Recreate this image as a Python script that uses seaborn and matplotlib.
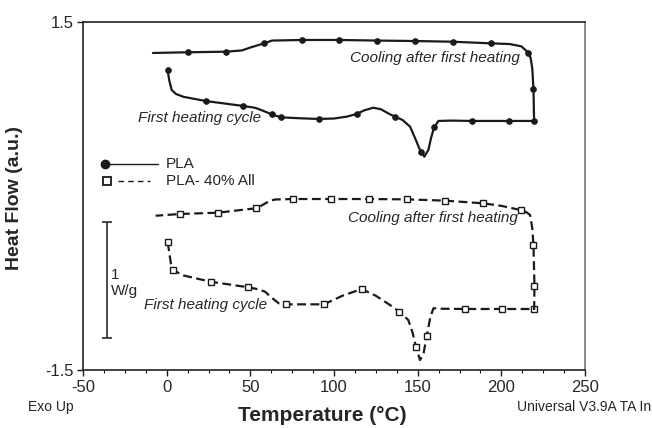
import matplotlib
matplotlib.use('Agg')
import matplotlib.pyplot as plt
import seaborn as sns
import pandas as pd

# PLA, first heating cycle
pla_heat_t = [0.6, 1.5, 3.0, 5.5, 10, 23.3, 45.8, 53, 57.6, 62.7, 68.4, 80, 90.8, 100, 107.6,
              113.5, 118, 123.5, 128, 133.5, 136.5, 141, 145.5, 149, 151.8, 154, 156.4, 158,
              159.8, 162.4, 170, 182.3, 204.8, 219.6]
pla_heat_v = [1.084, 1.00, 0.914, 0.880, 0.855, 0.819, 0.776, 0.760, 0.735, 0.704, 0.678, 0.670,
              0.664, 0.668, 0.684, 0.707, 0.738, 0.761, 0.748, 0.704, 0.684, 0.655, 0.597, 0.48,
              0.382, 0.339, 0.397, 0.50, 0.592, 0.647, 0.650, 0.647, 0.647, 0.647]
pla_heat_marks = [0, 5, 6, 9, 10, 12, 15, 20, 24, 28, 31, 32, 33]

# PLA, cooling after first heating
pla_cool_t = [219.6, 219.4, 219.2, 218.5, 217.5, 216.2, 212, 205, 193.7, 171, 148.4, 125.7, 103,
              81, 63, 58.2, 50, 45, 35.5, 12.8, -8.2]
pla_cool_v = [0.647, 0.78, 0.92, 1.10, 1.19, 1.235, 1.29, 1.31, 1.316, 1.33, 1.336, 1.34, 1.345,
              1.345, 1.34, 1.316, 1.28, 1.255, 1.244, 1.239, 1.233]
pla_cool_marks = [2, 5, 8, 9, 10, 11, 12, 13, 15, 18, 19]

# PLA- 40% All, first heating cycle
all_heat_t = [0.6, 1.5, 2.5, 3.6, 10, 26.3, 48.8, 55, 58.8, 63, 67, 71.3, 94, 105, 116.5, 125,
              133.5, 139, 144.4, 147, 149, 151.4, 153.5, 155.4, 157.5, 159.4, 165, 178, 200.6, 219.6]
all_heat_v = [-0.399, -0.48, -0.58, -0.638, -0.685, -0.739, -0.787, -0.805, -0.825, -0.88, -0.925,
              -0.934, -0.934, -0.86, -0.802, -0.86, -0.94, -0.997, -1.069, -1.18, -1.299, -1.414,
              -1.36, -1.207, -1.05, -0.968, -0.972, -0.974, -0.974, -0.974]
all_heat_marks = [0, 3, 5, 6, 11, 12, 14, 17, 20, 23, 27, 28, 29]

# PLA- 40% All, cooling after first heating
all_cool_t = [219.6, 219.8, 219.2, 218.5, 217.2, 215, 211.6, 200, 188.9, 166.4, 143.4, 120.9, 98.2,
              75.7, 65, 61.8, 57, 53.2, 30.5, 8, -6.6]
all_cool_v = [-0.983, -0.773, -0.422, -0.28, -0.164, -0.14, -0.121, -0.085, -0.063, -0.04, -0.029,
              -0.026, -0.026, -0.026, -0.03, -0.04, -0.08, -0.106, -0.144, -0.155, -0.17]
all_cool_marks = [1, 2, 6, 8, 9, 10, 11, 12, 13, 17, 18, 19]

scale_x = -35.8
scale_top, scale_bottom = -0.222, -1.222

sns.set_style('ticks')
plt.rcParams['font.family'] = ['Liberation Sans', 'DejaVu Sans']
plt.rcParams['axes.unicode_minus'] = False

fig = plt.figure(figsize=(6.52, 4.28), dpi=100)
ax = fig.add_axes([83 / 652, 58 / 428, 502 / 652, 348 / 428])

ink = '#1a1a1a'
solid = dict(color=ink, linewidth=1.6, marker='o', markersize=4, markerfacecolor=ink,
             markeredgecolor=ink, estimator=None, sort=False, ax=ax)
dashed = dict(color=ink, linewidth=1.6, linestyle=(0, (4, 2)), marker='s', markersize=4.5,
              markerfacecolor='white', markeredgecolor=ink, markeredgewidth=1,
              estimator=None, sort=False, ax=ax)

sns.lineplot(x=pla_heat_t, y=pla_heat_v, markevery=pla_heat_marks, **solid)
sns.lineplot(x=pla_cool_t, y=pla_cool_v, markevery=pla_cool_marks, **solid)
sns.lineplot(x=all_heat_t, y=all_heat_v, markevery=all_heat_marks, **dashed)
sns.lineplot(x=all_cool_t, y=all_cool_v, markevery=all_cool_marks, **dashed)

# 1 W/g scale bar
ax.errorbar([scale_x], [(scale_top + scale_bottom) / 2], yerr=[(scale_top - scale_bottom) / 2],
            color=ink, capsize=3.8, elinewidth=1.1, capthick=1.1, fmt='none')
ax.text(scale_x + 2.4, -0.75, '1\nW/g', fontsize=11, ha='left', va='center', linespacing=1.25)

# curve annotations
ax.text(211.2, 1.192, 'Cooling after first heating', fontsize=11, style='italic', ha='right', va='center')
ax.text(-17.1, 0.672, 'First heating cycle', fontsize=11, style='italic', ha='left', va='center')
ax.text(210, -0.192, 'Cooling after first heating', fontsize=11, style='italic', ha='right', va='center')
ax.text(-13.5, -0.94, 'First heating cycle', fontsize=11, style='italic', ha='left', va='center')

# legend drawn by hand (marker at the left end of the line)
ax.plot([0.0438, 0.149], [0.591, 0.591], transform=ax.transAxes, color=ink, lw=1)
ax.plot([0.0438], [0.591], transform=ax.transAxes, marker='o', ms=6, color=ink)
ax.text(0.165, 0.591, 'PLA', transform=ax.transAxes, fontsize=11, va='center')
ax.plot([0.07, 0.133], [0.544, 0.544], transform=ax.transAxes, color=ink, lw=1, linestyle=(0, (4, 3)))
ax.plot([0.047], [0.544], transform=ax.transAxes, marker='s', ms=6, mfc='white', mec=ink, mew=1.3)
ax.text(0.165, 0.544, 'PLA- 40% All', transform=ax.transAxes, fontsize=11, va='center')

ax.set_xlim(-50, 250)
ax.set_ylim(-1.5, 1.5)
ax.set_xticks([-50, 0, 50, 100, 150, 200, 250])
ax.set_xticks([-50 + 12.5 * i for i in range(25)], minor=True)
ax.set_yticks([-1.5, 1.5])
ax.set_yticklabels(['-1.5', '1.5'])
ax.tick_params(axis='both', which='major', direction='out', length=4, width=1, labelsize=12,
               color=ink, pad=3)
ax.tick_params(axis='x', which='minor', direction='out', length=2.5, width=0.8, color=ink)
for side in ['left', 'bottom', 'top']:
    ax.spines[side].set_color('#222222')
    ax.spines[side].set_linewidth(1.2)
ax.spines['right'].set_color('#777777')
ax.spines['right'].set_linewidth(1.2)
ax.set_xlabel('')
ax.set_ylabel('')

fig.text(0.494, 0.030, 'Temperature (°C)', fontsize=15, fontweight='bold', ha='center', va='center')
fig.text(0.023, 0.537, 'Heat Flow (a.u.)', fontsize=14, fontweight='bold', rotation=90,
         ha='center', va='center')
fig.text(0.043, 0.049, 'Exo Up', fontsize=10, ha='left', va='center')
fig.text(0.999, 0.049, 'Universal V3.9A TA In', fontsize=10, ha='right', va='center')

fig.savefig('out.png', dpi=100, facecolor='white')
